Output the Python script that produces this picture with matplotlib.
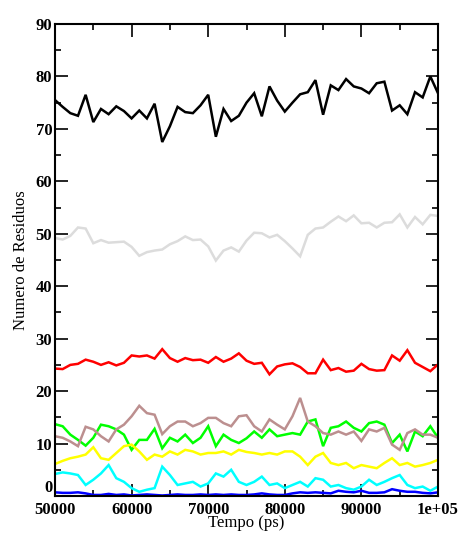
import matplotlib
matplotlib.use("Agg")
import matplotlib.pyplot as plt
from matplotlib.ticker import MultipleLocator, FixedLocator

time_ps = [50000 + 1000 * i for i in range(51)]

black = [75.5, 74.2, 73.0, 72.5, 76.5, 71.3, 73.8, 72.8, 74.3, 73.4,
         72.0, 73.5, 72.0, 74.8, 67.5, 70.5, 74.2, 73.2, 73.0, 74.5,
         76.5, 68.5, 73.8, 71.5, 72.5, 75.0, 76.8, 72.4, 78.1, 75.4,
         73.3, 75.0, 76.6, 77.0, 79.3, 72.7, 78.3, 77.4, 79.5, 78.1,
         77.7, 76.8, 78.7, 79.0, 73.5, 74.5, 72.8, 77.0, 76.0, 80.0,
         76.8]
grey = [49.2, 48.9, 49.6, 51.2, 51.0, 48.2, 48.8, 48.3, 48.4, 48.5,
        47.5, 45.8, 46.5, 46.8, 47.0, 48.0, 48.6, 49.5, 48.8, 48.9,
        47.6, 44.9, 46.8, 47.4, 46.6, 48.7, 50.2, 50.1, 49.3, 49.8,
        48.6, 47.2, 45.7, 49.8, 51.0, 51.2, 52.3, 53.3, 52.4, 53.5,
        52.0, 52.1, 51.2, 52.1, 52.2, 53.7, 51.2, 53.2, 51.8, 53.6,
        53.4]
red = [24.3, 24.2, 25.0, 25.2, 26.0, 25.6, 25.0, 25.5, 24.9, 25.4,
       26.8, 26.6, 26.8, 26.2, 28.0, 26.3, 25.6, 26.3, 25.9, 26.0,
       25.4, 26.5, 25.6, 26.2, 27.2, 25.8, 25.2, 25.4, 23.2, 24.7,
       25.1, 25.3, 24.6, 23.4, 23.4, 26.0, 24.0, 24.4, 23.7, 23.9,
       25.2, 24.2, 23.9, 24.0, 26.8, 25.8, 27.8, 25.4, 24.6, 23.8,
       25.1]
green = [13.7, 13.3, 11.7, 10.7, 9.6, 11.1, 13.6, 13.3, 12.7, 11.7,
         8.8, 10.7, 10.7, 12.8, 9.1, 11.1, 10.4, 11.7, 10.1, 11.1,
         13.3, 9.5, 11.7, 10.7, 10.1, 11.0, 12.3, 11.1, 12.7, 11.4,
         11.7, 12.0, 11.7, 14.2, 14.6, 9.5, 13.0, 13.3, 14.2, 13.0,
         12.3, 13.9, 14.2, 13.6, 10.1, 11.7, 8.5, 12.3, 11.4, 13.3,
         11.1]
brown = [11.4, 11.1, 10.4, 9.5, 13.2, 12.7, 11.4, 10.4, 12.7, 13.6,
         15.2, 17.2, 15.8, 15.5, 11.8, 13.3, 14.2, 14.2, 13.3, 13.9,
         14.9, 14.9, 13.9, 13.3, 15.2, 15.4, 13.3, 12.3, 14.6, 13.6,
         12.7, 15.2, 18.7, 14.2, 13.3, 12.0, 11.7, 12.3, 11.7, 12.3,
         10.5, 12.7, 12.3, 13.0, 9.8, 8.8, 12.0, 12.7, 11.7, 11.7,
         11.1]
yellow = [6.1, 6.7, 7.2, 7.5, 7.9, 9.3, 7.2, 6.9, 8.2, 9.5,
          9.8, 8.5, 6.9, 7.9, 7.5, 8.5, 7.9, 8.8, 8.5, 7.9,
          8.2, 8.2, 8.5, 7.9, 8.8, 8.4, 8.2, 7.9, 8.2, 7.9,
          8.5, 8.5, 7.5, 5.9, 7.5, 8.2, 6.3, 5.9, 6.3, 5.3,
          5.9, 5.6, 5.3, 6.3, 7.2, 5.9, 6.3, 5.6, 5.9, 6.3,
          6.9]
cyan = [4.2, 4.5, 4.3, 4.0, 2.1, 3.1, 4.3, 5.9, 3.4, 2.7,
        1.5, 0.8, 1.2, 1.5, 5.6, 4.0, 2.1, 2.4, 2.7, 1.8,
        2.4, 4.3, 3.7, 5.0, 2.7, 2.1, 2.7, 3.7, 2.1, 2.4,
        1.5, 2.1, 2.7, 1.8, 3.4, 3.1, 1.8, 2.1, 1.5, 1.2,
        1.8, 3.1, 2.1, 2.7, 3.4, 4.0, 2.1, 1.5, 1.8, 1.0,
        1.8]
blue = [0.7, 0.6, 0.6, 0.7, 0.5, 0.2, 0.2, 0.4, 0.2, 0.3,
        0.1, 0.2, 0.3, 0.2, 0.1, 0.2, 0.3, 0.2, 0.2, 0.3,
        0.2, 0.3, 0.2, 0.3, 0.2, 0.2, 0.3, 0.5, 0.3, 0.2,
        0.2, 0.5, 0.7, 0.6, 0.7, 0.6, 0.5, 1.0, 0.8, 0.7,
        1.0, 0.6, 0.6, 0.7, 1.3, 1.0, 0.8, 0.8, 0.6, 0.5,
        0.7]

series = [
    (black, "#000000"),
    (red, "#ff0000"),
    (green, "#00ff00"),
    (blue, "#0000ff"),
    (yellow, "#ffff00"),
    (brown, "#bc8f8f"),
    (grey, "#dcdcdc"),
    (cyan, "#00ffff"),
]

xticks = [50000, 60000, 70000, 80000, 90000, 100000]
xticklabels = ["50000", "60000", "70000", "80000", "90000", "1e+05"]
yticks = [0, 10, 20, 30, 40, 50, 60, 70, 80, 90]

fig = plt.figure(figsize=(4.64, 5.36), dpi=100)
ax = fig.add_axes([55 / 464, 40 / 536, 383 / 464, 472 / 536])

for vals, col in series:
    ax.plot(time_ps, vals, color=col, lw=1.8, solid_joinstyle="miter")

ax.set_xlim(50000, 100000)
ax.set_ylim(0, 90)
ax.xaxis.set_major_locator(FixedLocator(xticks))
ax.xaxis.set_minor_locator(MultipleLocator(5000))
ax.yaxis.set_major_locator(FixedLocator(yticks))
ax.yaxis.set_minor_locator(MultipleLocator(5))
ax.set_xticklabels(xticklabels)

for sp in ax.spines.values():
    sp.set_linewidth(1.5)

ax.tick_params(which="both", direction="in", top=True, right=True, width=1.2)
ax.tick_params(axis="x", which="major", length=9, pad=4)
ax.tick_params(axis="y", which="major", length=9, pad=2)
ax.tick_params(which="minor", length=4.5)

for lab in ax.get_xticklabels() + ax.get_yticklabels():
    lab.set_fontfamily("Liberation Serif")
    lab.set_fontweight("bold")
    lab.set_fontsize(12)

# the "0" label sits slightly raised, as in the reference
ax.get_yticklabels()[0].set_verticalalignment("bottom")

ax.set_xlabel("Tempo (ps)", family="Liberation Serif", fontsize=12, labelpad=-2)
ax.set_ylabel("Numero de Residuos", family="Liberation Serif", fontsize=12, labelpad=5)

fig.savefig("out.png", dpi=100)
